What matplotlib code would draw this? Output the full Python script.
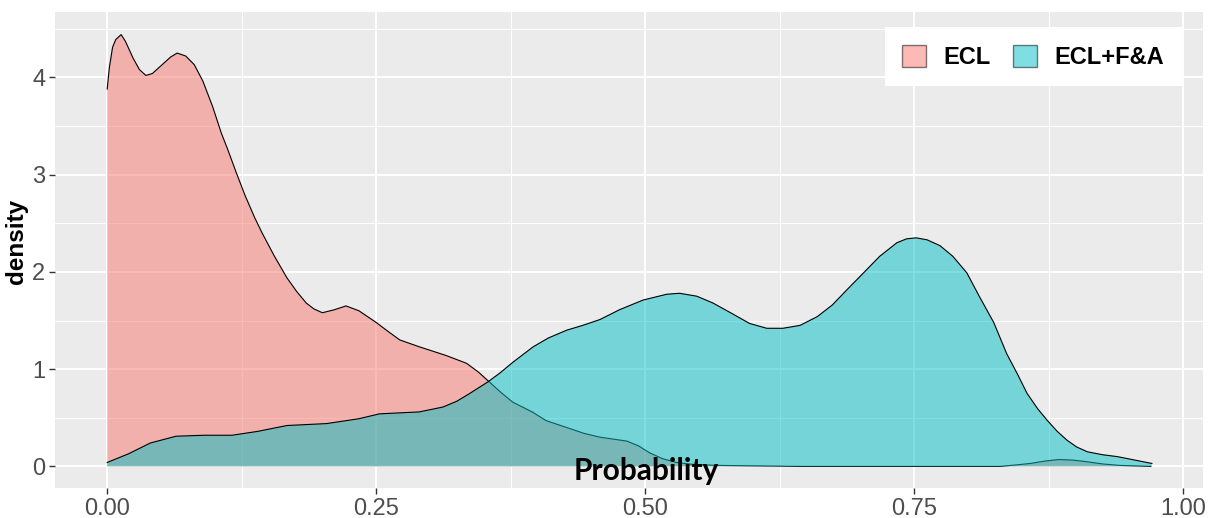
import matplotlib
matplotlib.use("Agg")
import matplotlib.pyplot as plt
from matplotlib.patches import Patch
from matplotlib.ticker import MultipleLocator

# ---- data ----
ecl_x = [0.000, 0.002, 0.005, 0.008, 0.013, 0.017, 0.024, 0.030, 0.036, 0.042,
         0.051, 0.059, 0.065, 0.073, 0.081, 0.089, 0.098, 0.106, 0.112, 0.120,
         0.128, 0.137, 0.144, 0.155, 0.167, 0.176, 0.185, 0.192, 0.200, 0.211,
         0.222, 0.234, 0.250, 0.262, 0.272, 0.290, 0.315, 0.334, 0.345, 0.355,
         0.366, 0.377, 0.395, 0.408, 0.427, 0.443, 0.458, 0.483, 0.494, 0.504,
         0.516, 0.529, 0.545, 0.567, 0.644, 0.830, 0.845, 0.858, 0.872, 0.884,
         0.897, 0.909, 0.925, 0.941, 0.970]
ecl_y = [3.88, 4.10, 4.31, 4.39, 4.44, 4.37, 4.20, 4.08, 4.02, 4.04,
         4.13, 4.21, 4.25, 4.22, 4.13, 3.96, 3.70, 3.43, 3.26, 3.02,
         2.79, 2.56, 2.40, 2.17, 1.94, 1.80, 1.68, 1.62, 1.58, 1.61,
         1.65, 1.60, 1.48, 1.38, 1.30, 1.23, 1.14, 1.06, 0.97, 0.87,
         0.76, 0.66, 0.56, 0.47, 0.40, 0.34, 0.30, 0.26, 0.21, 0.14,
         0.08, 0.04, 0.02, 0.01, 0.00, 0.00, 0.015, 0.03, 0.055, 0.07,
         0.065, 0.05, 0.025, 0.01, 0.00]

fa_x = [0.000, 0.020, 0.040, 0.064, 0.090, 0.116, 0.140, 0.167, 0.204, 0.234,
        0.253, 0.290, 0.312, 0.325, 0.337, 0.354, 0.365, 0.377, 0.396, 0.410,
        0.427, 0.442, 0.458, 0.476, 0.498, 0.520, 0.532, 0.548, 0.563, 0.581,
        0.597, 0.613, 0.628, 0.644, 0.660, 0.674, 0.687, 0.703, 0.718, 0.734,
        0.743, 0.752, 0.762, 0.774, 0.786, 0.799, 0.811, 0.824, 0.836, 0.846,
        0.855, 0.865, 0.874, 0.883, 0.892, 0.901, 0.911, 0.925, 0.939, 0.955,
        0.971]
fa_y = [0.04, 0.13, 0.24, 0.31, 0.32, 0.32, 0.36, 0.42, 0.44, 0.49,
        0.54, 0.56, 0.61, 0.67, 0.75, 0.87, 0.96, 1.07, 1.23, 1.32,
        1.40, 1.45, 1.51, 1.61, 1.71, 1.77, 1.78, 1.75, 1.68, 1.57,
        1.47, 1.42, 1.42, 1.45, 1.54, 1.66, 1.81, 1.99, 2.16, 2.30,
        2.34, 2.35, 2.33, 2.27, 2.16, 1.99, 1.74, 1.48, 1.16, 0.95,
        0.75, 0.59, 0.47, 0.36, 0.27, 0.20, 0.15, 0.12, 0.10, 0.065,
        0.03]

series_names = ["ECL", "ECL+F&A"]
series_colors = ["#F8766D", "#00BFC4"]
x_ticks = [0.00, 0.25, 0.50, 0.75, 1.00]
x_tick_labels = ["0.00", "0.25", "0.50", "0.75", "1.00"]
y_ticks = [0, 1, 2, 3, 4]

# ---- figure ----
W, H = 1218, 518
fig = plt.figure(figsize=(W / 100, H / 100), dpi=100)
ax = fig.add_axes([55 / W, (H - 488) / H, (1203 - 55) / W, (488 - 12) / H])
ax.set_facecolor("#EBEBEB")

for xs, ys, c in [(ecl_x, ecl_y, series_colors[0]), (fa_x, fa_y, series_colors[1])]:
    ax.fill_between(xs, 0, ys, facecolor=c, alpha=0.5, linewidth=0, zorder=3)
    ax.plot(xs, ys, color="black", linewidth=0.8, zorder=3,
            solid_joinstyle="round")

ax.set_xlim(-0.0485, 1.0185)
ax.set_ylim(-0.2225, 4.6725)
ax.set_xticks(x_ticks)
ax.set_xticklabels(x_tick_labels)
ax.set_yticks(y_ticks)
ax.xaxis.set_minor_locator(MultipleLocator(0.125))
ax.yaxis.set_minor_locator(MultipleLocator(0.5))
ax.grid(which="major", color="white", linewidth=1.4, zorder=0)
ax.grid(which="minor", color="white", linewidth=0.7, zorder=0)
ax.set_axisbelow(True)
for s in ax.spines.values():
    s.set_visible(False)
ax.tick_params(which="major", length=4, width=1, color="#333333",
               labelcolor="#4D4D4D", labelsize=17, pad=3)
ax.tick_params(which="minor", length=0)
for lab in ax.get_xticklabels() + ax.get_yticklabels():
    lab.set_family("Liberation Sans")

ax.set_ylabel("density", fontsize=17.5, fontweight="bold", family="Liberation Sans")
ax.yaxis.set_label_coords((28 - 55) / (1203 - 55), 0.518)

ax.text(0.501, -0.145, "Probability", fontsize=21.5, fontweight="bold",
        family="Lato", ha="center", va="baseline", color="black",
        zorder=5, clip_on=False)

handles = [Patch(facecolor=c, alpha=0.5, edgecolor="black", linewidth=1)
           for c in series_colors]
for h in handles:
    h.set_edgecolor((0, 0, 0, 0.8))
leg = ax.legend(handles, series_names, loc="upper right", ncol=2,
                frameon=True, fancybox=False, framealpha=1, edgecolor="white",
                prop={"family": "Liberation Sans", "weight": "bold", "size": 17},
                handlelength=1.0, handleheight=1.05, handletextpad=0.75,
                columnspacing=0.95, borderpad=0.75, borderaxespad=0.0)
leg.get_frame().set_linewidth(0)
leg.set_bbox_to_anchor((1182 / W, (H - 27) / H), transform=fig.transFigure)

fig.savefig("out.png", dpi=100)
